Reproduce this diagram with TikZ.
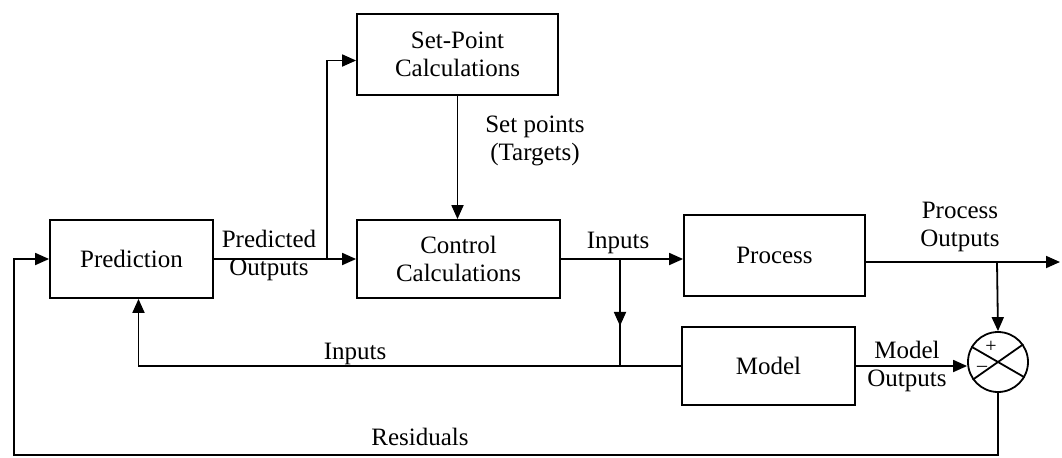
\documentclass[tikz,border=0pt]{standalone}
\usepackage{fontspec}
\setmainfont{Liberation Serif}
\usetikzlibrary{arrows.meta,calc,decorations.markings}
\begin{document}
\begin{tikzpicture}[x=0.5pt,y=-0.5pt,
  line width=0.9pt,
  font=\fontsize{12.5}{14}\selectfont,
  arr/.style={-{Triangle[length=7pt,width=6pt]}},
  midarr/.style={postaction={decorate},decoration={markings,
     mark=at position 0.62 with {\arrow{Triangle[length=7pt,width=6pt]}}}},
  blockbox/.style={draw,rectangle,inner sep=0pt,align=center},
  lbl/.style={align=center,inner sep=0pt}]
\useasboundingbox (0,0) rectangle (1062,457);
% blocks
\node[blockbox,minimum width=81.5pt,minimum height=39pt] (pred) at (131.5,259) {Prediction};
\node[blockbox,minimum width=100.5pt,minimum height=40.5pt] (sp) at (457.5,54.5) {Set-Point\\Calculations};
\node[blockbox,minimum width=101.5pt,minimum height=39pt] (ctrl) at (458.5,259) {Control\\Calculations};
\node[blockbox,minimum width=90.5pt,minimum height=40.5pt] (proc) at (774.5,255.5) {Process};
\node[blockbox,minimum width=86.5pt,minimum height=39pt] (model) at (768.5,366) {Model};
\node[draw,circle,minimum size=30pt,inner sep=0pt] (sum) at (998,362) {};
\draw (sum.150) -- (sum.330);
\draw (sum.35) -- (sum.215);
\node[inner sep=0pt,font=\fontsize{10}{10}\selectfont] (plus) at (991,347) {+};
\node[inner sep=0pt,font=\fontsize{10}{10}\selectfont] (minus) at (982,369) {\textendash};
% coordinates
\coordinate (b1) at (327,259);
\coordinate (b2) at (620,259);
\coordinate (b3) at (620,367);
\coordinate (out) at (1060,262);
\coordinate (b4) at (997,262);
\coordinate (rc1) at (14,455);
% connectors
\draw[arr] (pred) -- (ctrl);
\draw[arr] (b1) |- ($(sp.west)+(0,6)$);
\draw[arr] (sp.south) -- (sp.south |- ctrl.north);
\draw[arr] (ctrl.east) -- (ctrl.east -| proc.west);
\draw[midarr] (b2) -- (b3);
\draw[arr] (model.west) -| ($(pred.south)+(7,0)$);
\draw[arr] (proc.east |- out) -- (out);
\draw[arr] (b4) -- (sum.north);
\draw[arr] (model.east) -- (model.east -| sum.west);
\draw[arr] (sum.south) |- (rc1) |- (pred.west);
% labels
\node[lbl] (l1) at (269,255) {Predicted\\Outputs};
\node[lbl] (l2) at (535,141) {Set points\\(Targets)};
\node[lbl] (l3) at (618,243) {Inputs};
\node[lbl] (l4) at (960,227) {Process\\Outputs};
\node[lbl] (l5) at (355,354) {Inputs};
\node[lbl] (l6) at (907,366) {Model\\Outputs};
\node[lbl] (l7) at (420,437) {Residuals};
\end{tikzpicture}
\end{document}
